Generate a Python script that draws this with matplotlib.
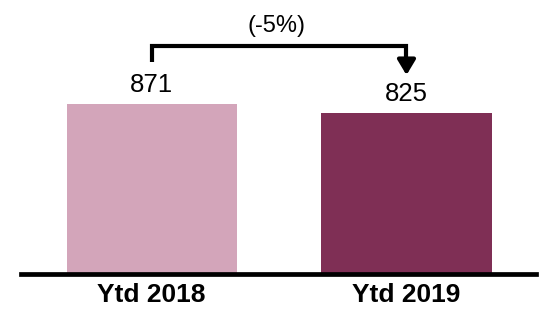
import matplotlib.pyplot as plt

plt.rcParams['font.family'] = ['Liberation Sans', 'DejaVu Sans']

# data
categories = ['Ytd 2018', 'Ytd 2019']
values = [871, 825]
change_label = '(-5%)'
colors = ['#D3A5BA', '#7F2F55']

fig = plt.figure(figsize=(5.44, 3.10), dpi=100)
ax = fig.add_axes([21 / 544, 35.7 / 310, 515 / 544, 274.3 / 310])

x = list(range(len(values)))
ax.bar(x, values, width=0.667, color=colors, zorder=2)

for xi, v in zip(x, values):
    ax.text(xi, v + 99, str(v), ha='center', va='center', fontsize=18.5)

# bracket with arrow from first to second bar
top = 1168
ax.plot([x[0], x[0], x[1], x[1]], [values[0] + 215, top, top, values[1] + 250],
        color='black', lw=3.0, solid_joinstyle='miter', solid_capstyle='butt', clip_on=False)
ax.annotate('', xy=(x[1], values[1] + 194), xytext=(x[1], values[1] + 270),
            arrowprops=dict(arrowstyle='-|>,head_length=0.45,head_width=0.27',
                            mutation_scale=20, lw=3.0, color='black',
                            shrinkA=0, shrinkB=0))
ax.text((x[0] + x[1]) / 2 - 0.01, 1272, change_label, ha='center', va='center', fontsize=17)

ax.set_xlim(-0.512, 1.508)
ax.set_ylim(0, 1403)
ax.set_xticks(x)
ax.set_xticklabels(categories, fontsize=19, fontweight='bold')
ax.tick_params(axis='x', length=0, pad=6)
ax.set_yticks([])
for s in ['top', 'right', 'left']:
    ax.spines[s].set_visible(False)
ax.spines['bottom'].set_linewidth(3.4)
ax.spines['bottom'].set_zorder(3)

fig.savefig('out.png', dpi=100)
